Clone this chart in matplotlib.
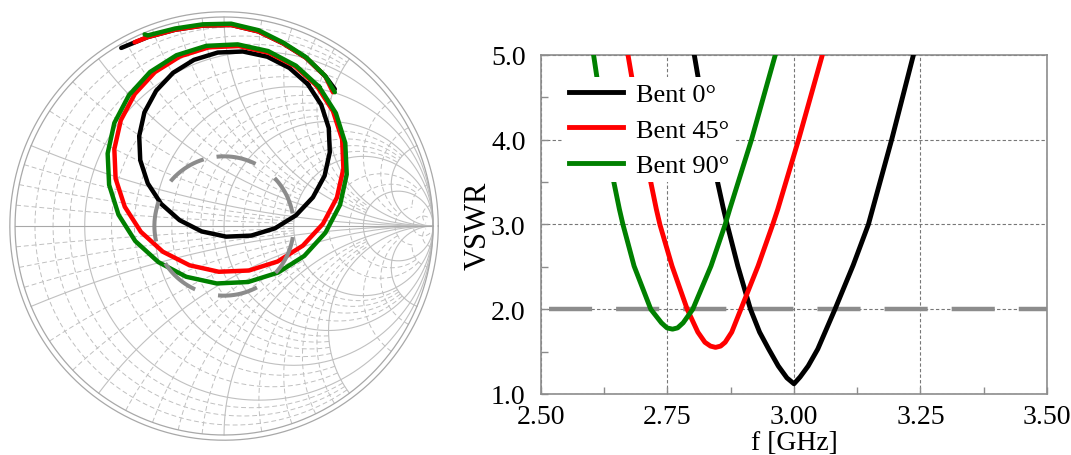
import numpy as np
import matplotlib
matplotlib.use("Agg")
import matplotlib.pyplot as plt
from matplotlib.ticker import AutoMinorLocator

plt.rcParams['font.family'] = ['Liberation Serif', 'DejaVu Serif']

# ---- VSWR vs frequency ----
f_bent0 = [2.803, 2.811, 2.849, 2.860, 2.868, 2.889, 2.914, 2.932, 2.950, 2.969,
           2.986, 3.000, 3.012, 3.028, 3.047, 3.081, 3.117, 3.147, 3.193, 3.236]
v_bent0 = [5.00, 4.72, 3.50, 3.20, 3.00, 2.51, 2.00, 1.73, 1.53, 1.33,
           1.19, 1.12, 1.20, 1.33, 1.53, 2.00, 2.52, 3.00, 4.00, 5.00]

f_bent45 = [2.672, 2.680, 2.717, 2.728, 2.735, 2.759, 2.789, 2.810, 2.824, 2.835,
            2.845, 2.855, 2.864, 2.877, 2.895, 2.929, 2.958, 2.968, 3.009, 3.056]
v_bent45 = [5.00, 4.72, 3.50, 3.18, 3.00, 2.51, 2.00, 1.73, 1.61, 1.565,
            1.55, 1.565, 1.61, 1.73, 2.00, 2.51, 3.00, 3.18, 4.00, 5.00]

f_bent90 = [2.604, 2.611, 2.644, 2.655, 2.662, 2.684, 2.717, 2.738, 2.749, 2.760,
            2.770, 2.781, 2.800, 2.836, 2.864, 2.873, 2.916, 2.963]
v_bent90 = [5.00, 4.72, 3.50, 3.18, 3.00, 2.51, 2.00, 1.84, 1.78, 1.765,
            1.78, 1.84, 2.00, 2.51, 3.00, 3.18, 4.00, 5.00]

labels = ['Bent 0°', 'Bent 45°', 'Bent 90°']
colors = ['black', '#ff0000', '#008000']
vswr_ref = 2.0

x_ticks = [2.50, 2.75, 3.00, 3.25, 3.50]
y_ticks = [1.0, 2.0, 3.0, 4.0, 5.0]

# ---- reflection coefficient loci on the Smith chart (Re, Im) ----
# outer sweep arc near the chart edge
arc0_re = [-0.492, -0.365, -0.234, -0.101, 0.034, 0.164, 0.284, 0.392, 0.484, 0.530]
arc0_im = [0.852, 0.904, 0.939, 0.959, 0.962, 0.931, 0.873, 0.805, 0.717, 0.655]
arc45_re = [-0.428, -0.365, -0.234, -0.101, 0.034, 0.164, 0.284, 0.392, 0.484, 0.521]
arc45_im = [0.879, 0.904, 0.939, 0.959, 0.962, 0.931, 0.873, 0.805, 0.717, 0.640]
arc90_re = [-0.380, -0.365, -0.234, -0.101, 0.034, 0.164, 0.284, 0.392, 0.484, 0.530]
arc90_im = [0.917, 0.912, 0.945, 0.965, 0.968, 0.937, 0.877, 0.808, 0.718, 0.640]

# resonance loops
loop0_re = [0.401, 0.465, 0.501, 0.506, 0.481, 0.425, 0.344, 0.244, 0.130, 0.010,
            -0.107, -0.213, -0.301, -0.365, -0.401, -0.406, -0.381, -0.325, -0.244,
            -0.144, -0.030, 0.090, 0.207, 0.313, 0.401]
loop0_im = [0.678, 0.580, 0.469, 0.353, 0.240, 0.137, 0.051, -0.011, -0.046, -0.051,
            -0.026, 0.028, 0.106, 0.204, 0.315, 0.431, 0.544, 0.647, 0.733,
            0.795, 0.830, 0.835, 0.810, 0.756, 0.678]
loop45_re = [0.444, 0.521, 0.565, 0.571, 0.540, 0.473, 0.377, 0.256, 0.119, -0.025,
             -0.165, -0.293, -0.398, -0.475, -0.519, -0.525, -0.494, -0.427, -0.331,
             -0.210, -0.073, 0.071, 0.211, 0.339, 0.444]
loop45_im = [0.670, 0.550, 0.415, 0.274, 0.136, 0.010, -0.094, -0.170, -0.213, -0.219,
             -0.188, -0.123, -0.028, 0.092, 0.227, 0.368, 0.506, 0.632, 0.736,
             0.812, 0.855, 0.861, 0.830, 0.765, 0.670]
loop90_re = [0.455, 0.535, 0.580, 0.587, 0.555, 0.485, 0.384, 0.258, 0.115, -0.035,
             -0.181, -0.314, -0.425, -0.505, -0.550, -0.557, -0.525, -0.455, -0.354,
             -0.228, -0.085, 0.065, 0.211, 0.344, 0.455]
loop90_im = [0.666, 0.540, 0.397, 0.247, 0.101, -0.032, -0.143, -0.223, -0.268, -0.275,
             -0.243, -0.173, -0.072, 0.054, 0.197, 0.347, 0.493, 0.626, 0.737,
             0.817, 0.862, 0.869, 0.837, 0.767, 0.666]

# Smith chart grid values
r_major = [0.2, 0.5, 1.0, 2.0, 5.0]
x_major = [0.2, 0.5, 1.0, 2.0, 5.0]
minor_sets = [([0.05, 0.1, 0.15, 0.3, 0.4, 0.6, 0.7, 0.8, 0.9], 2.0),
              ([1.2, 1.4, 1.6, 1.8], 5.0),
              ([3.0, 4.0, 10.0], 10.0),
              ([20.0], 50.0)]


def gamma(z):
    return (z - 1) / (z + 1)


def r_circle(ax, r, xmax, **kw):
    phi = np.linspace(-np.arctan(xmax), np.arctan(xmax), 600)
    g = gamma(r + 1j * np.tan(phi))
    ax.plot(g.real, g.imag, **kw)


def x_arc(ax, x, rmax, **kw):
    phi = np.linspace(0, np.arctan(rmax), 600)
    g = gamma(np.tan(phi) + 1j * x)
    ax.plot(g.real, g.imag, **kw)


fig = plt.figure(figsize=(10.71, 4.56), dpi=100)

# ---------------- Smith chart ----------------
axs = fig.add_axes([0.00625, 0.02555, 0.4059, 0.9533])
axs.set_xlim(-1.04, 1.04)
axs.set_ylim(-1.04, 1.04)
axs.set_aspect('equal')
axs.axis('off')

grid_col = '#c0c0c0'
solid = dict(color=grid_col, lw=0.8, ls='-', zorder=1)
dashed = dict(color=grid_col, lw=0.7, ls=(0, (5, 3)), zorder=1)

for vals, lim in minor_sets:
    for v in vals:
        r_circle(axs, v, lim, **dashed)
        x_arc(axs, v, lim, **dashed)
        x_arc(axs, -v, lim, **dashed)
for v in r_major:
    r_circle(axs, v, np.inf, **solid)
for v in x_major:
    x_arc(axs, v, np.inf, **solid)
    x_arc(axs, -v, np.inf, **solid)

t = np.linspace(0, 2 * np.pi, 720)
axs.plot(np.cos(t), np.sin(t), color='#a8a8a8', lw=0.9, zorder=1)
axs.plot(1.025 * np.cos(t), 1.025 * np.sin(t), color='#a8a8a8', lw=0.9, zorder=1)
axs.plot([-1, 1], [0, 0], color='#a8a8a8', lw=0.8, zorder=1)

arcs = [(arc0_re, arc0_im), (arc45_re, arc45_im), (arc90_re, arc90_im)]
loops = [(loop0_re, loop0_im), (loop45_re, loop45_im), (loop90_re, loop90_im)]
for (are, aim), (lre, lim_), c in zip(arcs, loops, colors):
    axs.plot(are, aim, color=c, lw=3.2, solid_capstyle='round',
             solid_joinstyle='round', zorder=3)
    axs.plot(lre, lim_, color=c, lw=3.2, solid_joinstyle='round', zorder=3)

# VSWR = 2 circle
g_ref = (vswr_ref - 1) / (vswr_ref + 1)
th = np.deg2rad(107) + np.linspace(0, 2 * np.pi, 600)
axs.plot(g_ref * np.cos(th), g_ref * np.sin(th), color='#8c8c8c', lw=2.9,
         ls=(0, (10.0, 5.9)), zorder=4)

# ---------------- VSWR plot ----------------
ax = fig.add_axes([0.5051, 0.1338, 0.4725, 0.7434])
for f, v, c, lab in zip([f_bent0, f_bent45, f_bent90],
                        [v_bent0, v_bent45, v_bent90], colors, labels):
    ax.plot(f, v, color=c, lw=3.5, label=lab, zorder=3,
            solid_joinstyle='round')

ax.axhline(vswr_ref, color='#8c8c8c', lw=3.2, ls=(13.3, (9.7, 5.4)), zorder=2)

ax.set_xlim(2.5, 3.5)
ax.set_ylim(1.0, 5.0)
ax.set_xticks(x_ticks)
ax.set_xticklabels(['%.2f' % x for x in x_ticks])
ax.set_yticks(y_ticks)
ax.set_yticklabels(['%.1f' % y for y in y_ticks])
ax.xaxis.set_minor_locator(AutoMinorLocator(2))
ax.yaxis.set_minor_locator(AutoMinorLocator(2))
ax.grid(True, which='major', color='#777777', lw=0.8, ls=(0, (3, 2)))

for s in ax.spines.values():
    s.set_color('#8c8c8c')
    s.set_linewidth(1.2)
ax.tick_params(which='both', direction='in', color='#8c8c8c', length=5,
               width=1, labelsize=20)
ax.tick_params(axis='x', pad=7)
ax.tick_params(axis='y', pad=11)

ax.set_xlabel('f [GHz]', fontsize=20, labelpad=1)
ax.set_ylabel('VSWR', fontsize=22, labelpad=-1)

leg = ax.legend(loc='upper left', bbox_to_anchor=(0, 1), borderaxespad=0.85,
                frameon=True, fancybox=False, edgecolor='none',
                facecolor='white', framealpha=1, fontsize=19,
                handlelength=2.05, handletextpad=0.5, labelspacing=0.45,
                borderpad=0.2)
leg.set_zorder(5)

fig.savefig('out.png', dpi=100)
